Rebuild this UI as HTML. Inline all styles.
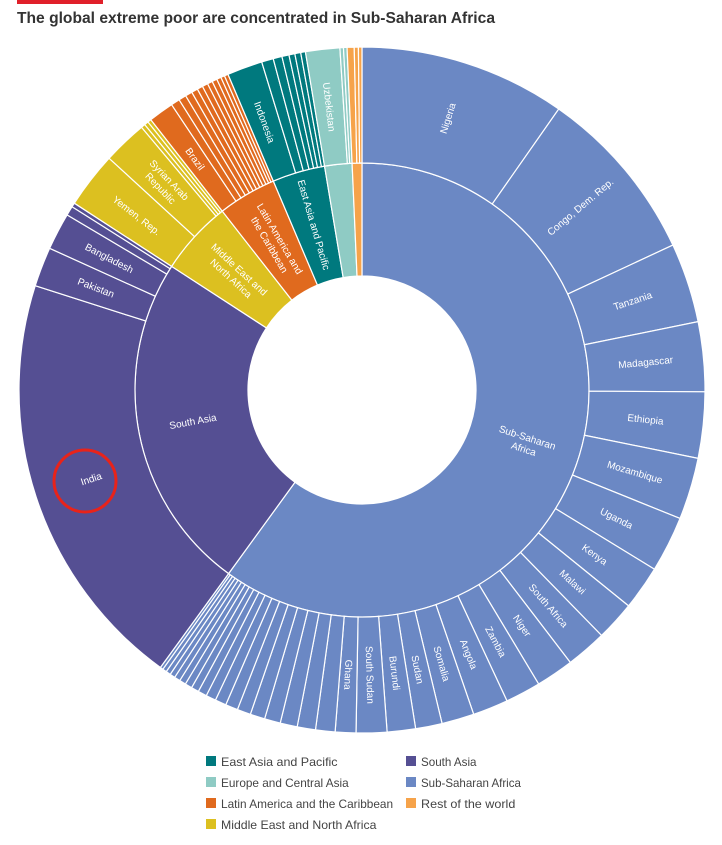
<!DOCTYPE html>
<html><head><meta charset="utf-8"><style>
html,body{margin:0;padding:0;background:#fff;width:722px;height:845px;overflow:hidden}
svg{display:block;font-family:"Liberation Sans",sans-serif}
</style></head><body>
<svg id="chart" width="722" height="845" viewBox="0 0 722 845">
<rect x="17" y="0" width="86" height="4" fill="#e0202a"/>
<text x="17" y="23" font-size="16" font-weight="bold" fill="#333" textLength="478" lengthAdjust="spacingAndGlyphs">The global extreme poor are concentrated in Sub-Saharan Africa</text>
<g id="rings"></g>
<g id="legend"></g>
</svg>
<script>
// Region data (degrees of the full circle)
const regionNames = ["Sub-Saharan Africa","South Asia","Middle East and North Africa","Latin America and the Caribbean","East Asia and Pacific","Europe and Central Asia","Rest of the world"];
const regionLabels = [["Sub-Saharan","Africa"],["South Asia"],["Middle East and","North Africa"],["Latin America and","the Caribbean"],["East Asia and Pacific"],[""],[""]];
const regionColors = ["#6b88c4","#554f93","#dcc020","#e06a1e","#00797e","#8fcbc4","#f6a34a"];
const regionShares = [216,87,19,15,13.5,7,2.5];
// Country slices per region (degrees)
const ssaCountries = ["Nigeria","Congo, Dem. Rep.","Tanzania","Madagascar","Ethiopia","Mozambique","Uganda","Kenya","Malawi","South Africa","Niger","Zambia","Angola","Somalia","Sudan","Burundi","South Sudan","Ghana"];
const ssaValues = [35,30,13.5,11.8,11.2,10.5,9.5,7.5,6.7,6.9,6.4,6,6,5.5,4.5,4.8,5.2,3.5];
const ssaSmall = [3.3,3.1,2.9,2.7,2.5,2.3,2.1,1.9,1.7,1.5,1.3,1.2,1.1,1.0,0.9,0.8,0.7,0.5];
const saCountries = ["India","Pakistan","Bangladesh","",""];
const saValues = [71.7,6.7,6.3,1.6,0.7];
const menaCountries = ["Yemen, Rep.","Syrian Arab Republic","","",""];
const menaValues = [9.5,7.5,0.7,0.7,0.6];
const lacCountries = ["Brazil","","","","","","","","","","",""];
const lacValues = [4,1.4,1.2,1.1,1,0.9,0.9,0.8,0.8,0.7,0.6,0.6];
const eapCountries = ["Indonesia","","","","","",""];
const eapValues = [6,2,1.5,1.2,1,1,0.8];
const ecaCountries = ["Uzbekistan","",""];
const ecaValues = [5.8,0.6,0.6];
const restCountries = ["","",""];
const restValues = [1.2,0.7,0.6];

const cx=362, cy=390, r0=114, r1=227, r2=343;
const NS="http://www.w3.org/2000/svg";
const rings=document.getElementById('rings');
function pt(a,r){const t=(a-90)*Math.PI/180;return [cx+r*Math.cos(t),cy+r*Math.sin(t)];}
function arc(a0,a1,ri,ro){
  const [x0,y0]=pt(a0,ro),[x1,y1]=pt(a1,ro),[x2,y2]=pt(a1,ri),[x3,y3]=pt(a0,ri);
  const lg=(a1-a0)>180?1:0;
  return `M${x0},${y0}A${ro},${ro} 0 ${lg} 1 ${x1},${y1}L${x2},${y2}A${ri},${ri} 0 ${lg} 0 ${x3},${y3}Z`;
}
function label(lines,a,r,size){
  const [x,y]=pt(a,r);
  const rot=a<=200?a-90:a+90;
  const t=document.createElementNS(NS,'text');
  
  
  t.setAttribute('transform',`translate(${x},${y}) rotate(${rot})`);
  t.setAttribute('text-anchor','middle');
  t.setAttribute('font-size',size);
  t.setAttribute('fill','#fff');
  lines.forEach((ln,i)=>{
    const s=document.createElementNS(NS,'tspan');
    s.setAttribute('x',0);
    s.setAttribute('y',(i-(lines.length-1)/2)*12+3.5);
    s.textContent=ln;t.appendChild(s);
  });
  rings.appendChild(t);
}
function slice(a0,a1,ri,ro,color,name){
  const p=document.createElementNS(NS,'path');
  p.setAttribute('d',arc(a0,a1,ri,ro));
  p.setAttribute('fill',color);
  p.setAttribute('stroke','#fff');
  p.setAttribute('stroke-width','1.2');
  
  
  rings.appendChild(p);
}
const countrySets=[
  [ssaCountries.concat(ssaSmall.map(()=>"")),ssaValues.concat(ssaSmall)],
  [saCountries,saValues],[menaCountries,menaValues],[lacCountries,lacValues],
  [eapCountries,eapValues],[ecaCountries,ecaValues],[restCountries,restValues]
];
let a=0;
regionShares.forEach((v,i)=>{
  const a0=a,a1=a+v;
  slice(a0,a1,r0,r1,regionColors[i],'region-'+regionNames[i].toLowerCase().replace(/[^a-z]+/g,'-'));
  // countries
  const [names,vals]=countrySets[i];
  const tot=vals.reduce((s,x)=>s+x,0);
  let b=a0;
  vals.forEach((cv,j)=>{
    const w=cv/tot*v;
    slice(b,b+w,r1,r2,regionColors[i],'country-slice');
    if(names[j]){
      const lines=names[j]==="Syrian Arab Republic"?["Syrian Arab","Republic"]:[names[j]];
      label(lines,b+w/2,285,10);
    }
    b+=w;
  });
  if(regionLabels[i][0]) label(regionLabels[i],(a0+a1)/2,172,10);
  a=a1;
});
// Legend
const legendNames=["East Asia and Pacific","Europe and Central Asia","Latin America and the Caribbean","Middle East and North Africa","South Asia","Sub-Saharan Africa","Rest of the world"];
const legendColors=["#00797e","#8fcbc4","#e06a1e","#dcc020","#554f93","#6b88c4","#f6a34a"];
const lg=document.getElementById('legend');
legendNames.forEach((n,i)=>{
  const col=i<4?0:1,row=i<4?i:i-4;
  const x=col?406:206,y=756+row*21;
  const r=document.createElementNS(NS,'rect');
  r.setAttribute('x',x);r.setAttribute('y',y);r.setAttribute('width',10);r.setAttribute('height',10);
  r.setAttribute('fill',legendColors[i]);
  
  
  lg.appendChild(r);
  const t=document.createElementNS(NS,'text');
  t.setAttribute('x',x+15);t.setAttribute('y',y+10);
  t.setAttribute('font-size','12');t.setAttribute('fill','#444');
  t.setAttribute('textLength',n.length*5.55);t.setAttribute('lengthAdjust','spacingAndGlyphs');
  
  
  t.textContent=n;lg.appendChild(t);
});
// red annotation circle around India
const c=document.createElementNS(NS,'circle');
c.setAttribute('cx',85);c.setAttribute('cy',481);c.setAttribute('r',31);
c.setAttribute('fill','none');c.setAttribute('stroke','#e8231a');c.setAttribute('stroke-width','3');


document.getElementById('chart').appendChild(c);
</script>
</body></html>
